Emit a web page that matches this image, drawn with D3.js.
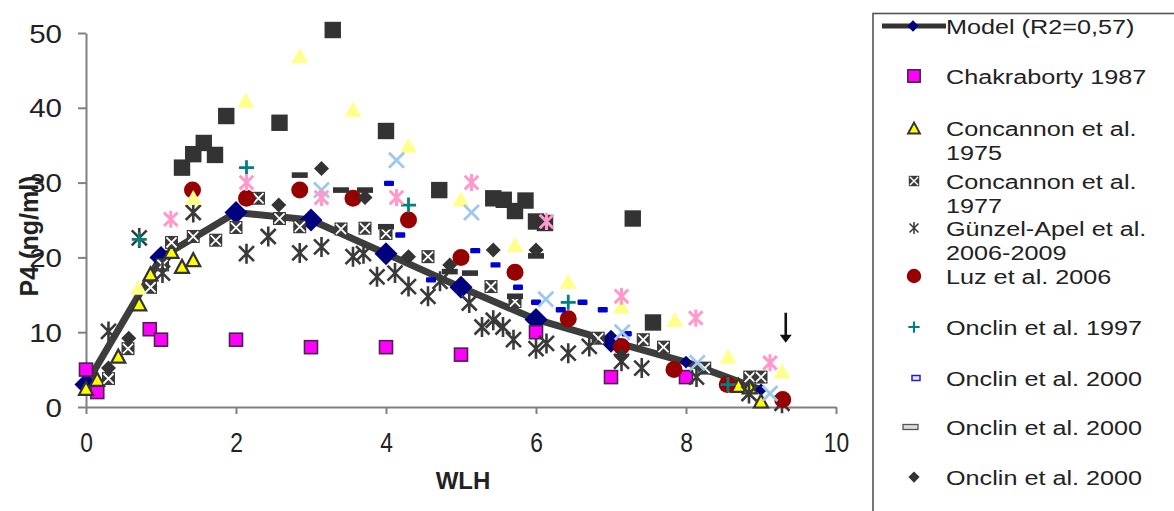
<!DOCTYPE html>
<html>
<head>
<meta charset="utf-8">
<script src="https://cdn.jsdelivr.net/npm/d3@7"></script>
<style>
  body { margin: 0; background: #fff; }
  svg { display: block; }
  text { font-family: "Liberation Sans", Arial, sans-serif; fill: #222; }
</style>
</head>
<body>
<svg id="chart" width="1174" height="511"></svg>
<script>
// ---- data: WLH (weeks after LH peak) vs plasma P4 (ng/ml) ----
const xTicks = [0, 2, 4, 6, 8, 10];
const yTicks = [0, 10, 20, 30, 40, 50];

const modelPts = [[0,3],[1,20],[2,26],[3,25],[4,20.5],[5,16],[6,11.7],[7,8.8],[8,6],[9,2.3]];
const chakraborty1987 = [[0,5],[0.15,2],[0.85,10.4],[1,9],[2,9],[3,8],[4,8],[5,7],[6,10],[7,4],[8,4]];
const concannon1975 = [[0,2.5],[0.15,3.7],[0.43,6.8],[0.71,13.8],[0.86,17.8],[1.14,20.8],[1.28,18.8],[1.43,19.7],[8.7,2.9],[8.85,2.7],[9,0.8]];
const concannon1977 = [[0.3,3.8],[0.56,7.8],[0.86,16],[1.02,19],[1.14,22],[1.43,22.8],[1.73,22.3],[2,24],[2.3,27.9],[2.58,25.2],[2.85,24.1],[3.4,23.8],[3.72,23.9],[4,23.2],[4.56,20.1],[5.4,16.1],[5.72,14.1],[6.83,9.2],[7.43,9],[7.7,8],[8.25,5.2],[8.85,4],[9,4]];
const gunzelApel = [[0.3,10.1],[0.71,22.6],[1.02,17.9],[1.43,26],[2.14,20.5],[2.43,22.8],[2.85,20.6],[3.14,21.4],[3.56,20.1],[3.7,20.5],[3.88,17.4],[4.12,17.9],[4.3,16.1],[4.56,14.8],[4.72,16.8],[5.11,13.9],[5.28,10.7],[5.43,11.6],[5.56,10.7],[5.7,9],[6,7.8],[6.14,8.5],[6.43,7.2],[6.71,8.1],[7.14,6.1],[7.41,5.2],[8.14,4],[8.84,1.8],[9.28,0.5]];
const luz2006 = [[1.42,29],[2.14,27.9],[2.85,29],[3.56,27.9],[4.3,25],[5,20],[5.72,18],[6.43,11.8],[7.14,8.1],[7.84,5],[8.55,3],[9.29,1]];
const onclin1997 = [[0.71,22.4],[2.14,32],[4.3,27],[6.43,14],[8.56,3]];
const onclin2000a = [[4.04,29.9],[4.19,23],[4.6,17],[5.19,20.9],[5.46,19],[5.76,16],[6,14],[6.33,13],[6.62,14],[6.89,13],[7.21,9.8]];
const onclin2000b = [[2.85,31],[3.4,29],[3.72,29],[4,24.1],[4.85,18.1],[5.12,17.9],[5.72,14.8],[6,20.2]];
const onclin2000c = [[0.3,5.2],[0.57,9.2],[2.57,27],[3.14,31.9],[3.72,28],[4.3,20.1],[4.85,19],[5.43,21],[6,21],[7.14,6.8]];
// further series plotted without a visible legend entry
const seriesPaleTri = [[0.7,16],[1.43,28],[2.13,41],[2.85,47],[3.56,39.8],[4.3,35],[5,27.8],[5.72,21.7],[6.43,16.8],[7.14,13.5],[7.85,11.7],[8.56,6.8],[9.28,4.8]];
const seriesDarkSq = [[1.28,32],[1.43,33.8],[1.57,35.3],[1.72,33.7],[1.87,38.9],[2.58,38],[3.29,50.4],[4,36.9],[4.71,29],[5.43,27.9],[5.57,27.7],[5.72,26.2],[5.86,27.6],[6,24.8],[6.12,24.6],[7.29,25.2],[7.56,11.3]];
const seriesBlueX = [[3.14,29],[4.14,33],[5.14,26],[6.13,14.4],[7.15,10],[8.15,5.9],[9.12,1.8]];
const seriesPinkStar = [[1.13,25.1],[2.14,30],[3.14,28],[4.14,28],[5.14,30],[6.14,24.8],[7.14,14.8],[8.13,11.9],[9.12,5.9]];
const arrowAt = [9.33, 12.6, 8.6];   // x, from-y, to-y

const legendLabels = [
  ["Model (R2=0,57)"],
  ["Chakraborty 1987"],
  ["Concannon et al.", "1975"],
  ["Concannon et al.", "1977"],
  ["Günzel-Apel et al.", "2006-2009"],
  ["Luz et al. 2006"],
  ["Onclin et al. 1997"],
  ["Onclin et al. 2000"],
  ["Onclin et al. 2000"],
  ["Onclin et al. 2000"]
];

// ---- layout ----
const svg = d3.select("#chart");
const x = d3.scaleLinear().domain([0, 10]).range([86, 836]);
const y = d3.scaleLinear().domain([0, 50]).range([407, 33]);
const AXIS = "#808080";

// marker painters: g = group already translated to the point
const markers = {
  diamondNavy(g, s = 1) {
    const h = 11.5 * s;
    g.append("path").attr("d", `M0,${-h}L${h},0L0,${h}L${-h},0Z`).attr("fill", "#00007f");
  },
  squareMagenta(g, s = 1) {
    const h = 6.5 * s;
    g.append("rect").attr("x", -h).attr("y", -h).attr("width", 2*h).attr("height", 2*h)
      .attr("fill", "#ff00ff").attr("stroke", "#4b2448").attr("stroke-width", 1.6);
  },
  triYellow(g, s = 1) {
    const w = 7 * s, h = 6.5 * s;
    g.append("path").attr("d", `M0,${-h}L${w},${h}L${-w},${h}Z`)
      .attr("fill", "#ffff00").attr("stroke", "#333").attr("stroke-width", 2 * Math.min(s, 1) + 0.2);
  },
  squareX(g, s = 1) {
    const h = 6.5 * s;
    g.append("rect").attr("x", -h).attr("y", -h).attr("width", 2*h).attr("height", 2*h).attr("fill", "#3a3a3a");
    const k = h * 0.78;
    g.append("path").attr("d", `M${-k},${-k}L${k},${k}M${k},${-k}L${-k},${k}`)
      .attr("stroke", "#fff").attr("stroke-width", 1.8 * s);
  },
  asterisk(g, s = 1) {
    const h = 10 * s, d = h * 0.75;
    g.append("path").attr("d", `M0,${-h}L0,${h}M${-d},${-d}L${d},${d}M${d},${-d}L${-d},${d}`)
      .attr("stroke", "#3a3a3a").attr("stroke-width", 2.6 * s).attr("fill", "none");
  },
  circleRed(g, s = 1) {
    g.append("circle").attr("r", 8.5 * s).attr("fill", "#960000");
  },
  plusTeal(g, s = 1) {
    const h = 7.5 * s;
    g.append("path").attr("d", `M0,${-h}L0,${h}M${-h},0L${h},0`)
      .attr("stroke", "#008080").attr("stroke-width", 2.8 * s);
  },
  dashBlue(g) {
    g.append("rect").attr("x", -5).attr("y", -2.7).attr("width", 10).attr("height", 5.4)
      .attr("rx", 1.2).attr("fill", "#0000d0");
  },
  dashDark(g) {
    g.append("rect").attr("x", -8).attr("y", -2.8).attr("width", 16).attr("height", 5.6).attr("fill", "#333");
  },
  diamondDark(g, s = 1) {
    const h = 7.5 * s;
    g.append("path").attr("d", `M0,${-h}L${h},0L0,${h}L${-h},0Z`).attr("fill", "#333");
  },
  triPale(g, s = 1) {
    const w = 8.5 * s, h = 7.5 * s;
    g.append("path").attr("d", `M0,${-h}L${w},${h}L${-w},${h}Z`).attr("fill", "#ffff8c");
  },
  squareDark(g, s = 1) {
    const h = 8.2 * s;
    g.append("rect").attr("x", -h).attr("y", -h).attr("width", 2*h).attr("height", 2*h).attr("fill", "#333");
  },
  xBlue(g, s = 1) {
    const h = 7.5 * s;
    g.append("path").attr("d", `M${-h},${-h}L${h},${h}M${h},${-h}L${-h},${h}`)
      .attr("stroke", "#9cc8f0").attr("stroke-width", 2.8 * s);
  },
  starPink(g, s = 1) {
    const h = 8.5 * s, d = h * 0.8;
    g.append("path").attr("d", `M0,${-h}L0,${h}M${-d},${-d}L${d},${d}M${d},${-d}L${-d},${d}`)
      .attr("stroke", "#ff99cc").attr("stroke-width", 3 * s).attr("fill", "none");
  }
};

// ---- axes ----
const gx = svg.append("g").attr("transform", `translate(0,${y(0)})`)
  .call(d3.axisBottom(x).tickValues(xTicks).tickSize(7).tickSizeOuter(0).tickFormat(d3.format("d")));
const gy = svg.append("g").attr("transform", `translate(${x(0)},0)`)
  .call(d3.axisLeft(y).tickValues(yTicks).tickSize(8).tickSizeOuter(0).tickFormat(d3.format("d")));
[gx, gy].forEach(g => {
  g.select(".domain").attr("stroke", AXIS).attr("stroke-width", 2);
  g.selectAll(".tick line").attr("stroke", AXIS).attr("stroke-width", 2);
  g.selectAll(".tick text").attr("fill", "#222").style("font-family", '"Liberation Sans", Arial, sans-serif');
});
gx.selectAll(".tick text").attr("font-size", 24).attr("y", 0).attr("dy", 0)
  .attr("transform", "translate(0,45) scale(0.95,1.14)");
gy.selectAll(".tick text").attr("font-size", 25).attr("x", 0).attr("dy", 0)
  .attr("transform", "translate(-24,9) scale(1.18,1)");

// axis titles
svg.append("text").attr("x", 463).attr("y", 489).attr("text-anchor", "middle")
  .attr("font-size", 24).attr("font-weight", "bold").text("WLH");
svg.append("text").attr("transform", "translate(38,236) rotate(-90)").attr("text-anchor", "middle")
  .attr("font-size", 25).attr("font-weight", "bold").text("P4 (ng/ml)");

// ---- model line ----
const plot = svg.append("g");
plot.append("path").datum(modelPts)
  .attr("d", d3.line().x(d => x(d[0])).y(d => y(d[1])))
  .attr("fill", "none").attr("stroke", "#3d3d3d").attr("stroke-width", 7).attr("stroke-linejoin", "round");

function scatter(data, type, s = 1) {
  plot.append("g").selectAll("g").data(data).join("g")
    .attr("transform", d => `translate(${x(d[0])},${y(d[1])})`)
    .each(function () { markers[type](d3.select(this), s); });
}

scatter(modelPts.slice(0, 8), "diamondNavy");
scatter(modelPts.slice(8), "diamondNavy", 0.55);
scatter(chakraborty1987, "squareMagenta");
scatter(concannon1975, "triYellow");
scatter(concannon1977, "squareX");
scatter(gunzelApel, "asterisk");
scatter(luz2006, "circleRed");
scatter(onclin1997, "plusTeal");
scatter(onclin2000a, "dashBlue");
scatter(onclin2000b, "dashDark");
scatter(onclin2000c, "diamondDark");
scatter(seriesPaleTri, "triPale");
scatter(seriesDarkSq, "squareDark");
scatter(seriesBlueX, "xBlue");
scatter(seriesPinkStar, "starPink");

// arrow marking the end of the cycle
const ax = x(arrowAt[0]), ay0 = y(arrowAt[1]), ay1 = y(arrowAt[2]);
svg.append("line").attr("x1", ax).attr("x2", ax).attr("y1", ay0).attr("y2", ay1 - 6)
  .attr("stroke", "#111").attr("stroke-width", 2.6);
svg.append("path").attr("d", `M${ax - 6},${ay1 - 8}L${ax + 6},${ay1 - 8}L${ax},${ay1}Z`).attr("fill", "#111");

// ---- legend ----
const legend = svg.append("g");
legend.append("rect").attr("x", 873).attr("y", 13.5).attr("width", 330).attr("height", 520)
  .attr("fill", "#fff").attr("stroke", "#555").attr("stroke-width", 1.6);

const rowY = [26, 76, 128, 181, 228, 276, 327, 378, 427, 477];
const legendMarkers = [null, "squareMagenta", "triYellow", "squareX", "asterisk", "circleRed", "plusTeal", "legendBlue", "legendDash", "diamondDark"];
const legendScale = [1, 0.95, 0.85, 0.8, 0.6, 0.85, 0.75, 1, 1, 0.75];

legendLabels.forEach((lines, i) => {
  const cy = rowY[i];
  const mk = legendMarkers[i];
  if (i === 0) {
    legend.append("line").attr("x1", 882).attr("x2", 946).attr("y1", cy).attr("y2", cy)
      .attr("stroke", "#333").attr("stroke-width", 5);
    markers.diamondNavy(legend.append("g").attr("transform", `translate(913,${cy})`), 0.5);
  } else if (mk === "legendBlue") {
    legend.append("rect").attr("x", 912).attr("y", cy - 2.5).attr("width", 8).attr("height", 5)
      .attr("fill", "#e8e8ff").attr("stroke", "#2020c0").attr("stroke-width", 1.5);
  } else if (mk === "legendDash") {
    legend.append("rect").attr("x", 903).attr("y", cy - 2.5).attr("width", 15).attr("height", 5)
      .attr("fill", "#ddd").attr("stroke", "#555").attr("stroke-width", 1.3);
  } else {
    markers[mk](legend.append("g").attr("transform", `translate(914,${cy})`), legendScale[i]);
  }
  lines.forEach((t, j) => {
    legend.append("text")
      .attr("transform", `translate(946,${cy + 7.5 + j * 24}) scale(1.2,1)`)
      .attr("font-size", 21).text(t);
  });
});
</script>
</body>
</html>
